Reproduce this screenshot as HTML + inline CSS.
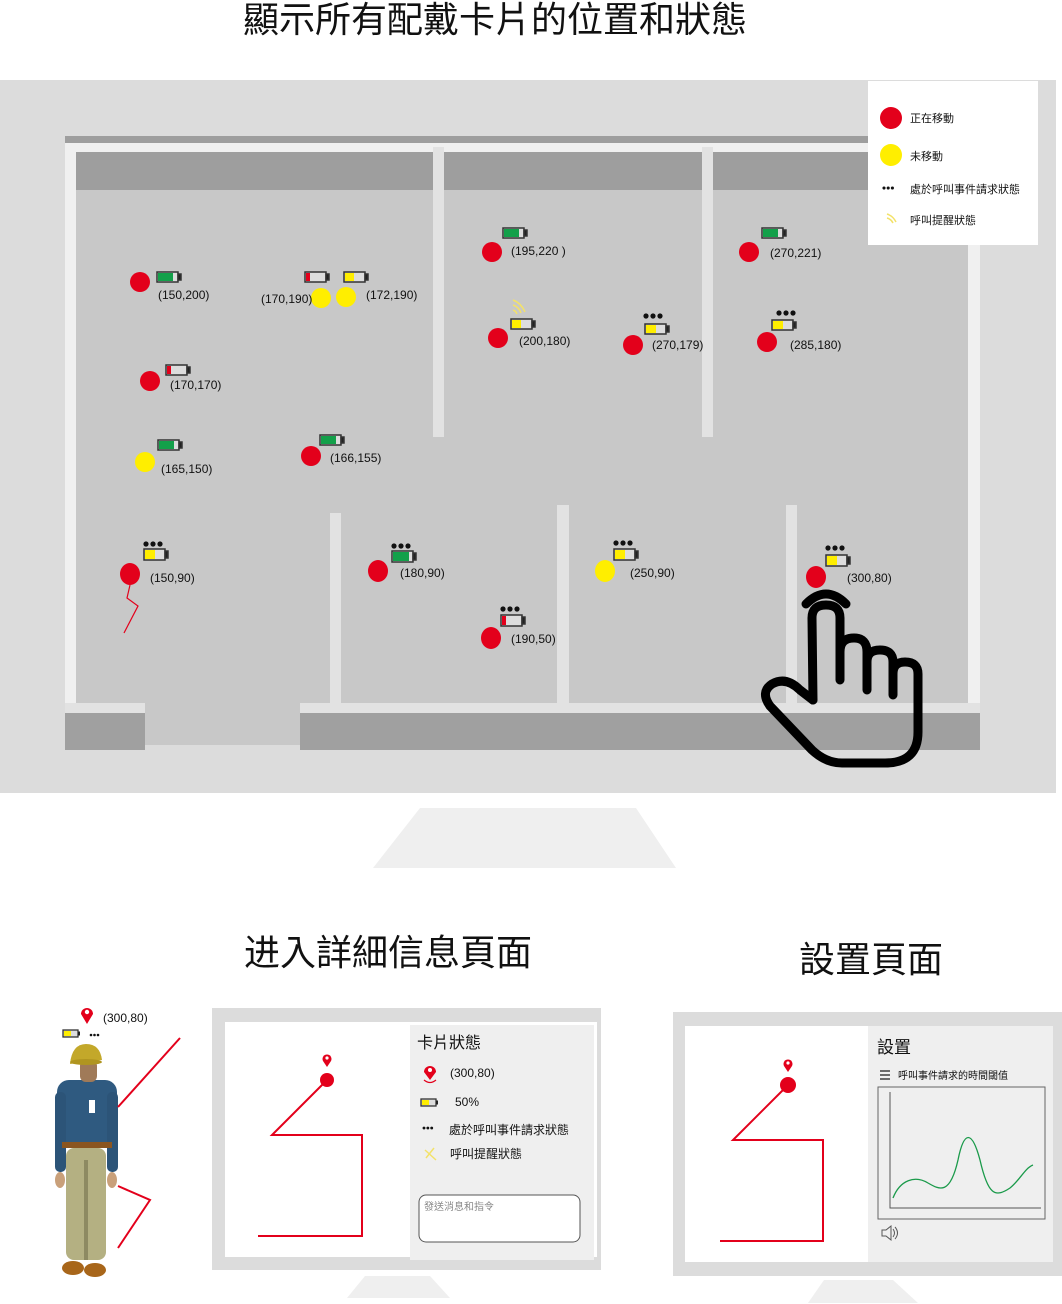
<!DOCTYPE html>
<html><head><meta charset="utf-8"><style>
html,body{margin:0;padding:0;background:#fff;width:1062px;height:1304px;overflow:hidden}
svg{display:block}
text{font-family:"Liberation Sans","Noto Sans CJK TC",sans-serif;fill:#111}
</style></head><body>
<svg width="1062" height="1304" viewBox="0 0 1062 1304" xmlns="http://www.w3.org/2000/svg">
<defs>
<g id="dots"><circle cx="0" cy="0" r="2.6" fill="#111"/><circle cx="7" cy="0" r="2.6" fill="#111"/><circle cx="14" cy="0" r="2.6" fill="#111"/></g>
</defs>
<text x="495" y="32" font-size="36" text-anchor="middle">顯示所有配戴卡片的位置和狀態</text>

<!-- monitor -->
<rect x="0" y="80" width="1056" height="713" fill="#dcdcdc"/>
<rect x="65" y="136" width="910" height="7" fill="#9e9e9e"/>
<rect x="65" y="143" width="915" height="9" fill="#f0f0f0"/>
<rect x="65" y="143" width="11" height="562" fill="#f0f0f0"/>
<rect x="76" y="152" width="892" height="553" fill="#c8c8c8"/>
<rect x="76" y="152" width="892" height="38" fill="#9e9e9e"/>
<rect x="968" y="143" width="12" height="562" fill="#f0f0f0"/>
<rect x="433" y="147" width="11" height="290" fill="#e2e2e2"/>
<rect x="702" y="147" width="11" height="290" fill="#e2e2e2"/>
<rect x="330" y="513" width="11" height="192" fill="#e2e2e2"/>
<rect x="557" y="505" width="12" height="200" fill="#e2e2e2"/>
<rect x="786" y="505" width="11" height="200" fill="#e2e2e2"/>
<rect x="65" y="703" width="80" height="10" fill="#e2e2e2"/>
<rect x="300" y="703" width="680" height="10" fill="#e2e2e2"/>
<rect x="65" y="713" width="80" height="37" fill="#a0a0a0"/>
<rect x="300" y="713" width="680" height="37" fill="#a0a0a0"/>
<rect x="145" y="703" width="155" height="42" fill="#c8c8c8"/>
<polygon points="420,808 636,808 676,868 373,868" fill="#efefef"/>

<!-- legend -->
<rect x="868" y="81" width="170" height="164" fill="#fff"/>
<circle cx="891" cy="118" r="11" fill="#e3001b"/>
<text x="910" y="122" font-size="11">正在移動</text>
<circle cx="891" cy="155" r="11" fill="#ffee00"/>
<text x="910" y="160" font-size="11">未移動</text>
<use href="#dots" x="884" y="188" transform="translate(884 188) scale(0.6) translate(-884 -188)"/>
<text x="910" y="193" font-size="11">處於呼叫事件請求狀態</text>
<path d="M887 214 q6 2 9 8 M887 218 q4 1 6 5" stroke="#f3e26a" stroke-width="1.5" fill="none"/>
<text x="910" y="224" font-size="11">呼叫提醒狀態</text>

<!-- markers -->
<g font-size="12">
<circle cx="140" cy="282" r="10" fill="#e3001b"/>
<text x="158" y="299">(150,200)</text>
<circle cx="321" cy="298" r="10" fill="#ffee00"/>
<circle cx="346" cy="297" r="10" fill="#ffee00"/>
<text x="261" y="303">(170,190)</text>
<text x="366" y="299">(172,190)</text>
<circle cx="492" cy="252" r="10" fill="#e3001b"/>
<text x="511" y="255">(195,220 )</text>
<circle cx="498" cy="338" r="10" fill="#e3001b"/>
<path d="M513 300 q8 3 12 12 M513 305 q6 2 8 8 M513 310 q3 1 4 4" stroke="#f3e26a" stroke-width="1.5" fill="none"/>
<text x="519" y="345">(200,180)</text>
<circle cx="633" cy="345" r="10" fill="#e3001b"/>
<text x="652" y="349">(270,179)</text>
<circle cx="749" cy="252" r="10" fill="#e3001b"/>
<text x="770" y="257">(270,221)</text>
<circle cx="767" cy="342" r="10" fill="#e3001b"/>
<text x="790" y="349">(285,180)</text>
<circle cx="150" cy="381" r="10" fill="#e3001b"/>
<text x="170" y="389">(170,170)</text>
<circle cx="145" cy="462" r="10" fill="#ffee00"/>
<text x="161" y="473">(165,150)</text>
<circle cx="311" cy="456" r="10" fill="#e3001b"/>
<text x="330" y="462">(166,155)</text>
<ellipse cx="130" cy="574" rx="10" ry="11" fill="#e3001b"/>
<text x="150" y="582">(150,90)</text>
<polyline points="130,585 127,598 138,606 124,633" stroke="#e3001b" stroke-width="1.2" fill="none"/>
<ellipse cx="378" cy="571" rx="10" ry="11" fill="#e3001b"/>
<text x="400" y="577">(180,90)</text>
<ellipse cx="491" cy="638" rx="10" ry="11" fill="#e3001b"/>
<text x="511" y="643">(190,50)</text>
<ellipse cx="605" cy="571" rx="10" ry="11" fill="#ffee00"/>
<text x="630" y="577">(250,90)</text>
<ellipse cx="816" cy="577" rx="10" ry="11" fill="#e3001b"/>
<text x="847" y="582">(300,80)</text>
</g>
<g stroke="#333" stroke-width="1.5">
<rect x="157" y="272" width="21" height="10" fill="#ddd"/><rect x="158" y="273" width="15" height="8" fill="#13a04a" stroke="none"/><rect x="178" y="274" width="3" height="6" fill="#222"/>
<rect x="305" y="272" width="21" height="10" fill="#ddd"/><rect x="306" y="273" width="4" height="8" fill="#e3001b" stroke="none"/><rect x="326" y="274" width="3" height="6" fill="#222"/>
<rect x="344" y="272" width="21" height="10" fill="#ddd"/><rect x="345" y="273" width="9" height="8" fill="#ffee00" stroke="none"/><rect x="365" y="274" width="3" height="6" fill="#222"/>
<rect x="503" y="228" width="21" height="10" fill="#ddd"/><rect x="504" y="229" width="15" height="8" fill="#13a04a" stroke="none"/><rect x="524" y="230" width="3" height="6" fill="#222"/>
<rect x="511" y="319" width="21" height="10" fill="#ddd"/><rect x="512" y="320" width="9" height="8" fill="#ffee00" stroke="none"/><rect x="532" y="321" width="3" height="6" fill="#222"/>
<rect x="645" y="324" width="21" height="10" fill="#ddd"/><rect x="646" y="325" width="10" height="8" fill="#ffee00" stroke="none"/><rect x="666" y="326" width="3" height="6" fill="#222"/>
<rect x="762" y="228" width="21" height="10" fill="#ddd"/><rect x="763" y="229" width="15" height="8" fill="#13a04a" stroke="none"/><rect x="783" y="230" width="3" height="6" fill="#222"/>
<rect x="772" y="320" width="21" height="10" fill="#ddd"/><rect x="773" y="321" width="10" height="8" fill="#ffee00" stroke="none"/><rect x="793" y="322" width="3" height="6" fill="#222"/>
<rect x="166" y="365" width="21" height="10" fill="#ddd"/><rect x="167" y="366" width="4" height="8" fill="#e3001b" stroke="none"/><rect x="187" y="367" width="3" height="6" fill="#222"/>
<rect x="158" y="440" width="21" height="10" fill="#ddd"/><rect x="159" y="441" width="15" height="8" fill="#13a04a" stroke="none"/><rect x="179" y="442" width="3" height="6" fill="#222"/>
<rect x="320" y="435" width="21" height="10" fill="#ddd"/><rect x="321" y="436" width="15" height="8" fill="#13a04a" stroke="none"/><rect x="341" y="437" width="3" height="6" fill="#222"/>
<rect x="144" y="549" width="21" height="11" fill="#ddd"/><rect x="145" y="550" width="10" height="9" fill="#ffee00" stroke="none"/><rect x="165" y="551" width="3" height="7" fill="#222"/>
<rect x="392" y="551" width="21" height="11" fill="#ddd"/><rect x="393" y="552" width="16" height="9" fill="#13a04a" stroke="none"/><rect x="413" y="553" width="3" height="7" fill="#222"/>
<rect x="501" y="615" width="21" height="11" fill="#ddd"/><rect x="502" y="616" width="4" height="9" fill="#e3001b" stroke="none"/><rect x="522" y="617" width="3" height="7" fill="#222"/>
<rect x="614" y="549" width="21" height="11" fill="#ddd"/><rect x="615" y="550" width="10" height="9" fill="#ffee00" stroke="none"/><rect x="635" y="551" width="3" height="7" fill="#222"/>
<rect x="826" y="555" width="21" height="11" fill="#ddd"/><rect x="827" y="556" width="10" height="9" fill="#ffee00" stroke="none"/><rect x="847" y="557" width="3" height="7" fill="#222"/>
</g>
<use href="#dots" x="646" y="316"/>
<use href="#dots" x="779" y="313"/>
<use href="#dots" x="146" y="544"/>
<use href="#dots" x="394" y="546"/>
<use href="#dots" x="503" y="609"/>
<use href="#dots" x="616" y="543"/>
<use href="#dots" x="828" y="548"/>

<!-- hand -->
<g stroke="#000" stroke-width="9" fill="none" stroke-linecap="round" stroke-linejoin="round">
<path d="M806 604 Q826 584 846 604"/>
<path d="M813 700 L812 618 Q812 605 826 605 Q840 605 840 618 L840 680"/>
<path d="M840 652 Q840 638 854 638 Q867 638 867 652 L867 690"/>
<path d="M867 662 Q867 650 880 650 Q893 650 893 662 L893 695"/>
<path d="M893 674 Q893 662 905 662 Q918 662 918 674 L918 732 Q918 763 885 763 L842 763 Q826 763 812 750 L770 706 Q760 692 772 684 Q786 676 800 690 L813 700"/>
</g>

<!-- bottom titles -->
<text x="388" y="965" font-size="36" text-anchor="middle">进入詳細信息頁面</text>
<text x="871" y="972" font-size="36" text-anchor="middle">設置頁面</text>

<!-- person -->
<text x="103" y="1022" font-size="12">(300,80)</text>
<path d="M87 1024 L81 1014 A6 6 0 1 1 93 1014 Z" fill="#e3001b"/><circle cx="87" cy="1012" r="2.2" fill="#fff"/>
<rect x="63" y="1030" width="15" height="7" fill="#ddd" stroke="#333" stroke-width="1.3"/><rect x="64" y="1031" width="7" height="5" fill="#ffee00"/><rect x="78" y="1031.5" width="2" height="4" fill="#222"/>
<use href="#dots" x="91" y="1035" transform="translate(91 1035) scale(0.5) translate(-91 -1035)"/>
<g>
<rect x="66" y="1148" width="40" height="112" rx="8" fill="#b4b082"/>
<rect x="84" y="1160" width="4" height="100" fill="#8e8a62"/>
<ellipse cx="73" cy="1268" rx="11" ry="7" fill="#a8661a"/>
<ellipse cx="95" cy="1270" rx="11" ry="7" fill="#a8661a"/>
<rect x="57" y="1080" width="60" height="66" rx="12" fill="#2f5a80"/>
<rect x="55" y="1092" width="11" height="80" rx="5" fill="#2c5478"/>
<rect x="107" y="1092" width="11" height="80" rx="5" fill="#2c5478"/>
<ellipse cx="60" cy="1180" rx="5" ry="8" fill="#c9a07a"/>
<ellipse cx="112" cy="1180" rx="5" ry="8" fill="#c9a07a"/>
<rect x="62" y="1142" width="50" height="6" fill="#8a5520"/>
<rect x="89" y="1100" width="6" height="13" fill="#fff"/>
<rect x="80" y="1060" width="17" height="22" rx="6" fill="#a07a58"/>
<path d="M70 1064 Q72 1044 86 1044 Q100 1044 102 1060 Z" fill="#c3a82a"/>
<ellipse cx="86" cy="1062" rx="16" ry="3" fill="#b09520"/>
</g>
<g stroke="#e3001b" stroke-width="2" fill="none">
<line x1="180" y1="1038" x2="118" y2="1107"/>
<polyline points="118,1186 150,1200 118,1248"/>
</g>

<!-- left detail monitor -->
<rect x="212" y="1008" width="389" height="262" fill="#dcdcdc"/>
<rect x="225" y="1022" width="372" height="235" fill="#fff"/>
<rect x="410" y="1025" width="184" height="235" fill="#efefef"/>
<polygon points="365,1276 430,1276 450,1298 347,1298" fill="#efefef"/>
<path d="M327 1067 L323 1061 A4.5 4.5 0 1 1 331 1061 Z" fill="#e3001b"/><circle cx="327" cy="1058" r="1.6" fill="#fff"/>
<circle cx="327" cy="1080" r="7" fill="#e3001b"/>
<polyline points="327,1080 272,1135 362,1135 362,1236 258,1236" stroke="#e3001b" stroke-width="2" fill="none"/>
<text x="417" y="1048" font-size="16">卡片狀態</text>
<path d="M430 1080 L424 1072 A6 6 0 1 1 436 1072 Z" fill="#e3001b"/><circle cx="430" cy="1070" r="2" fill="#fff"/>
<path d="M424 1080 q6 5 12 0" stroke="#e3001b" stroke-width="1.2" fill="none"/>
<text x="450" y="1077" font-size="12">(300,80)</text>
<rect x="421" y="1099" width="15" height="7" fill="#ddd" stroke="#333" stroke-width="1.3"/><rect x="422" y="1100" width="7" height="5" fill="#ffee00"/><rect x="436" y="1100.5" width="2" height="4" fill="#222"/>
<text x="455" y="1106" font-size="12">50%</text>
<use href="#dots" x="424" y="1128" transform="translate(424 1128) scale(0.55) translate(-424 -1128)"/>
<text x="449" y="1134" font-size="12">處於呼叫事件請求狀態</text>
<path d="M425 1150 L436 1160 M434 1148 L426 1158" stroke="#f3e26a" stroke-width="1.5"/>
<text x="450" y="1158" font-size="12">呼叫提醒狀態</text>
<rect x="419" y="1195" width="161" height="47" rx="7" fill="#fff" stroke="#555" stroke-width="1"/>
<text x="424" y="1210" font-size="10" style="fill:#888">發送消息和指令</text>

<!-- right settings monitor -->
<rect x="673" y="1012" width="389" height="264" fill="#dcdcdc"/>
<rect x="685" y="1026" width="183" height="236" fill="#fff"/>
<rect x="868" y="1026" width="185" height="236" fill="#efefef"/>
<polygon points="824,1280 893,1280 918,1303 808,1303" fill="#efefef"/>
<path d="M788 1072 L784 1066 A4.5 4.5 0 1 1 792 1066 Z" fill="#e3001b"/><circle cx="788" cy="1063" r="1.6" fill="#fff"/>
<circle cx="788" cy="1085" r="8" fill="#e3001b"/>
<polyline points="788,1085 733,1140 823,1140 823,1241 720,1241" stroke="#e3001b" stroke-width="2" fill="none"/>
<text x="877" y="1053" font-size="17">設置</text>
<g stroke="#222" stroke-width="1.3"><line x1="880" y1="1071" x2="890" y2="1071"/><line x1="880" y1="1075" x2="890" y2="1075"/><line x1="880" y1="1079" x2="890" y2="1079"/></g>
<text x="898" y="1079" font-size="10">呼叫事件請求的時間閾值</text>
<rect x="878" y="1087" width="167" height="132" fill="#efefef" stroke="#666" stroke-width="1"/>
<polyline points="890,1092 890,1208 1041,1208" stroke="#555" stroke-width="1" fill="none"/>
<path d="M893 1198 C900 1180 915 1175 928 1183 C940 1190 950 1195 958 1160 C964 1130 972 1130 980 1160 C988 1195 995 1198 1010 1188 C1020 1180 1025 1168 1033 1165" stroke="#1a9a4a" stroke-width="1.3" fill="none"/>
<path d="M882 1230 h4 l5 -4 v14 l-5 -4 h-4 z" fill="none" stroke="#555" stroke-width="1"/>
<path d="M893 1229 q3 4 0 8 M895 1227 q5 6 0 12" fill="none" stroke="#555" stroke-width="1"/>
</svg>
</body></html>
